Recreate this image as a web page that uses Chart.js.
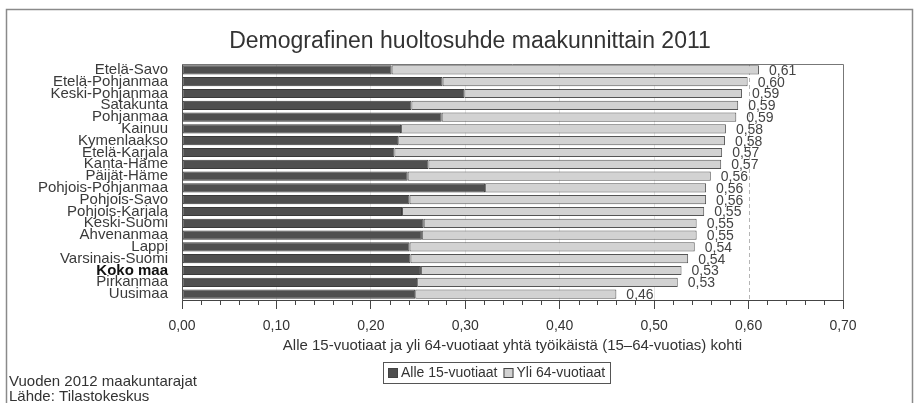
<!DOCTYPE html>
<html>
<head>
<meta charset="utf-8">
<script src="https://cdn.jsdelivr.net/npm/chart.js@4/dist/chart.umd.min.js"></script>
<style>
body { margin: 0; background: #fff; }
#wrap { width: 919px; height: 403px; position: relative; }
</style>
</head>
<body>
<div id="wrap"><canvas id="chart"></canvas></div>
<script>
// ------------------------------
// Data
// ------------------------------

const regions = [
"Etelä-Savo", "Etelä-Pohjanmaa", "Keski-Pohjanmaa", "Satakunta", "Pohjanmaa",
"Kainuu", "Kymenlaakso", "Etelä-Karjala", "Kanta-Häme", "Päijät-Häme",
"Pohjois-Pohjanmaa", "Pohjois-Savo", "Pohjois-Karjala", "Keski-Suomi", "Ahvenanmaa",
"Lappi", "Varsinais-Suomi", "Koko maa", "Pirkanmaa", "Uusimaa"
];

const alle15 = [
0.222, 0.276, 0.299, 0.243, 0.275,
0.232, 0.229, 0.225, 0.261, 0.239,
0.321, 0.241, 0.233, 0.256, 0.254,
0.241, 0.242, 0.253, 0.249, 0.247
];

const yli64 = [
0.389, 0.323, 0.294, 0.346, 0.312,
0.344, 0.346, 0.347, 0.310, 0.321,
0.234, 0.314, 0.320, 0.289, 0.291,
0.302, 0.294, 0.276, 0.276, 0.213
];

const totalLabels = [
"0,61", "0,60", "0,59", "0,59", "0,59",
"0,58", "0,58", "0,57", "0,57", "0,56",
"0,56", "0,56", "0,55", "0,55", "0,55",
"0,54", "0,54", "0,53", "0,53", "0,46"
];

const seriesNames = ["Alle 15-vuotiaat", "Yli 64-vuotiaat"];
const xMin = 0;
const xMax = 0.7;
const xStep = 0.1;
const minorStep = 0.02;
const refLine = 0.6;

const titleText = "Demografinen huoltosuhde maakunnittain 2011";
const footerLines = ["Vuoden 2012 maakuntarajat", "Lähde: Tilastokeskus"];

const FONT = "'Liberation Sans', Arial, Helvetica, sans-serif";


// ------------------------------
// Extra drawing (frame, title, dashed line, minor ticks, labels, legend, footer)
// ------------------------------

const extras = {

id: "extras",

beforeDatasetsDraw(chart) {

    const ctx = chart.ctx;
    const x = chart.scales.x;
    const area = chart.chartArea;
    const px = Math.round(x.getPixelForValue(refLine)) + 0.5;

    ctx.save();
    ctx.strokeStyle = "#b5b5b5";
    ctx.lineWidth = 1;
    ctx.setLineDash([4, 3]);
    ctx.beginPath();
    ctx.moveTo(px, area.top);
    ctx.lineTo(px, area.bottom);
    ctx.stroke();
    ctx.restore();

},

afterDatasetsDraw(chart) {

    const ctx = chart.ctx;
    const meta = chart.getDatasetMeta(1);

    ctx.save();
    ctx.font = "14px " + FONT;
    ctx.fillStyle = "#444";
    ctx.textBaseline = "middle";
    ctx.textAlign = "left";

    meta.data.forEach((bar, i) => {
        ctx.fillText(totalLabels[i], bar.x + 10, bar.y + 1);
    });

    ctx.restore();

},

afterDraw(chart) {

    const ctx = chart.ctx;
    const x = chart.scales.x;
    const area = chart.chartArea;

    ctx.save();

    // title
    ctx.font = "23px " + FONT;
    ctx.fillStyle = "#333";
    ctx.textAlign = "center";
    ctx.textBaseline = "middle";
    ctx.fillText(titleText, 470, 42);

    // plot box top and right
    ctx.strokeStyle = "#777";
    ctx.lineWidth = 1;
    ctx.beginPath();
    ctx.moveTo(area.left, area.top + 0.5);
    ctx.lineTo(area.right + 0.5, area.top + 0.5);
    ctx.lineTo(area.right + 0.5, area.bottom);
    ctx.stroke();

    // minor ticks
    ctx.strokeStyle = "#444";
    ctx.beginPath();
    const n = Math.round((xMax - xMin) / minorStep);
    for (let i = 1; i < n; i++) {
        if (i % 5 === 0) continue;
        const px = Math.round(x.getPixelForValue(xMin + i * minorStep)) + 0.5;
        ctx.moveTo(px, area.bottom);
        ctx.lineTo(px, area.bottom + 5);
    }
    ctx.stroke();

    // outer frame
    ctx.strokeStyle = "#8a8a8a";
    ctx.lineWidth = 1.5;
    ctx.beginPath();
    ctx.moveTo(6.5, 403);
    ctx.lineTo(6.5, 9.5);
    ctx.lineTo(912.5, 9.5);
    ctx.lineTo(912.5, 403);
    ctx.stroke();

    // legend
    ctx.font = "14px " + FONT;
    ctx.textBaseline = "middle";
    ctx.textAlign = "left";
    const ds = chart.data.datasets;
    const box = 10;
    let w = 5;
    ds.forEach((d, i) => {
        w += box + 3 + ctx.measureText(d.label).width + (i < ds.length - 1 ? 6 : 5);
    });
    const lx = Math.round(497 - w / 2);
    const ly = 362;
    const lh = 21;
    ctx.lineWidth = 1;
    ctx.strokeStyle = "#555";
    ctx.strokeRect(lx + 0.5, ly + 0.5, Math.round(w), lh);
    let cx = lx + 5;
    ds.forEach((d) => {
        ctx.fillStyle = d.backgroundColor;
        ctx.fillRect(cx, ly + 6, box, box);
        ctx.strokeStyle = "#444";
        ctx.strokeRect(cx + 0.5, ly + 6.5, box - 1, box - 1);
        cx += box + 3;
        ctx.fillStyle = "#333";
        ctx.fillText(d.label, cx, ly + lh / 2 + 1);
        cx += ctx.measureText(d.label).width + 6;
    });

    // footer
    ctx.font = "15px " + FONT;
    ctx.fillStyle = "#333";
    ctx.textBaseline = "alphabetic";
    ctx.fillText(footerLines[0], 9, 386);
    ctx.fillText(footerLines[1], 9, 401);

    ctx.restore();

}

};


// ------------------------------
// Bar Chart
// ------------------------------

const chart = new Chart(

document.getElementById("chart"),

{

type: "bar",

data: {

labels: regions,

datasets: [{
    label: seriesNames[0],
    data: alle15,
    backgroundColor: "#4f4f4f",
    borderColor: "#3a3a3a",
    borderWidth: 1,
    borderSkipped: false,
    barPercentage: 0.78,
    categoryPercentage: 1
}, {
    label: seriesNames[1],
    data: yli64,
    backgroundColor: "#d2d2d2",
    borderColor: "#555",
    borderWidth: 1,
    borderSkipped: false,
    barPercentage: 0.78,
    categoryPercentage: 1
}]

},

options: {

indexAxis: "y",
responsive: true,
maintainAspectRatio: false,
animation: false,

layout: {
    padding: { left: 8, right: 76, top: 64, bottom: 43 }
},

plugins: {
    legend: { display: false },
    tooltip: { enabled: false },
    title: { display: false }
},

scales: {

    x: {
        stacked: true,
        min: xMin,
        max: xMax,
        afterFit: s => { s.height = 60; },
        ticks: {
            stepSize: xStep,
            autoSkip: false,
            maxRotation: 0,
            padding: 9,
            color: "#333",
            font: { family: FONT, size: 14 },
            callback: v => Number(v).toFixed(2).replace(".", ",")
        },
        grid: {
            drawTicks: true,
            tickLength: 9,
            tickColor: "#444",
            color: c => {
                const v = Math.round(c.tick.value * 100) / 100;
                if (v === xMin || v === refLine || v === xMax) return "rgba(0,0,0,0)";
                return "#e4e4e4";
            }
        },
        border: { display: true, color: "#444", width: 1 },
        title: {
            display: true,
            text: "Alle 15-vuotiaat ja yli 64-vuotiaat yhtä työikäistä (15–64-vuotias) kohti",
            color: "#333",
            font: { family: FONT, size: 15 },
            padding: { top: 0, bottom: 5 }
        }
    },

    y: {
        stacked: true,
        afterFit: s => { s.width = 174; },
        ticks: {
            autoSkip: false,
            padding: 14,
            color: c => regions[c.index] === "Koko maa" ? "#111" : "#3a3a3a",
            font: c => ({
                family: FONT,
                size: 15,
                weight: regions[c.index] === "Koko maa" ? "bold" : "normal"
            })
        },
        grid: { display: false, drawTicks: false },
        border: { display: true, color: "#555", width: 1 }
    }

}

},

plugins: [extras]

});
</script>
</body>
</html>
